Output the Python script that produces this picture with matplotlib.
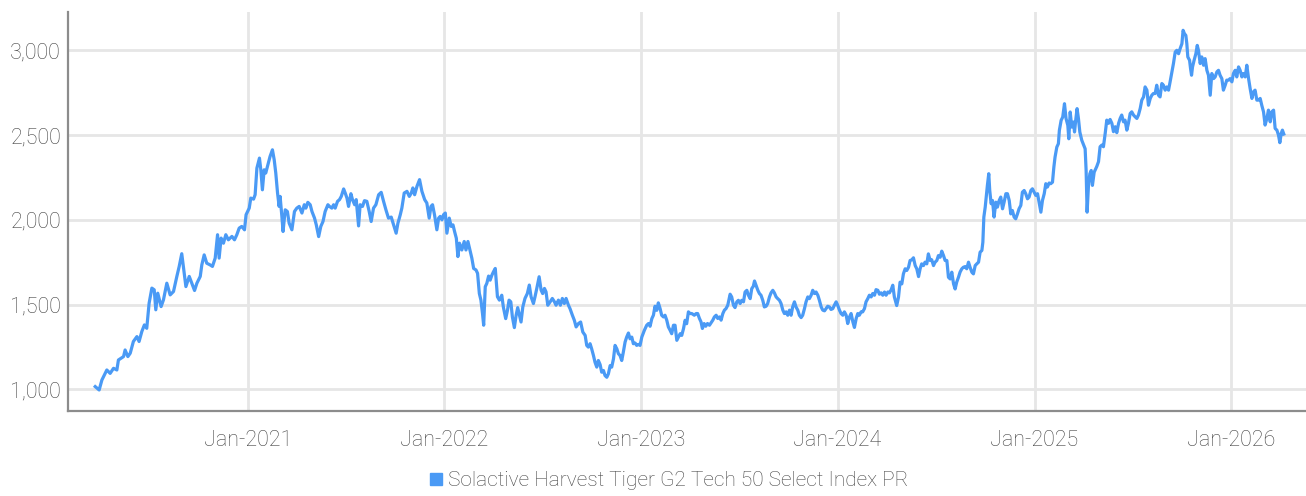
import matplotlib
matplotlib.use("Agg")
import matplotlib.pyplot as plt
from matplotlib.lines import Line2D
from matplotlib.ticker import FuncFormatter
import pandas as pd

plt.rcParams['font.family'] = ['Roboto', 'DejaVu Sans']
plt.rcParams['font.weight'] = 'light'

series_name = "Solactive Harvest Tiger G2 Tech 50 Select Index PR"

# time of each reading, in decimal years
years = [
    2020.226, 2020.246, 2020.260, 2020.285, 2020.302, 2020.319, 2020.336, 2020.344, 2020.370, 2020.378,
    2020.392, 2020.404, 2020.420, 2020.438, 2020.449, 2020.463, 2020.476, 2020.488, 2020.500, 2020.514,
    2020.526, 2020.534, 2020.544, 2020.561, 2020.573, 2020.590, 2020.607, 2020.624, 2020.641, 2020.653,
    2020.666, 2020.675, 2020.687, 2020.704, 2020.717, 2020.731, 2020.743, 2020.760, 2020.768, 2020.780,
    2020.793, 2020.810, 2020.822, 2020.836, 2020.848, 2020.856, 2020.866, 2020.878, 2020.890, 2020.903,
    2020.921, 2020.934, 2020.946, 2020.958, 2020.971, 2020.985, 2020.993, 2021.009, 2021.017, 2021.031,
    2021.039, 2021.048, 2021.061, 2021.068, 2021.076, 2021.085, 2021.093, 2021.104, 2021.115, 2021.127,
    2021.136, 2021.144, 2021.153, 2021.161, 2021.166, 2021.175, 2021.181, 2021.192, 2021.203, 2021.212,
    2021.226, 2021.239,
    2021.251, 2021.263, 2021.277, 2021.289, 2021.297, 2021.307, 2021.319, 2021.328, 2021.341, 2021.350,
    2021.362, 2021.373, 2021.384, 2021.395, 2021.409, 2021.417, 2021.429, 2021.438, 2021.446, 2021.458,
    2021.468, 2021.477, 2021.489, 2021.497, 2021.506, 2021.514, 2021.526, 2021.534, 2021.545, 2021.553,
    2021.565, 2021.573, 2021.585, 2021.595, 2021.607, 2021.619, 2021.629, 2021.641, 2021.653, 2021.667,
    2021.680, 2021.692, 2021.704, 2021.717, 2021.731, 2021.743, 2021.756, 2021.765, 2021.777, 2021.785,
    2021.797, 2021.811, 2021.823, 2021.833, 2021.841, 2021.850, 2021.862, 2021.875, 2021.887, 2021.901,
    2021.912, 2021.924, 2021.933, 2021.941, 2021.951, 2021.963, 2021.972, 2021.980, 2021.989, 2021.997,
    2022.006, 2022.014, 2022.026, 2022.036, 2022.045, 2022.053, 2022.062, 2022.070, 2022.078, 2022.090,
    2022.102, 2022.111, 2022.121, 2022.129, 2022.141, 2022.150, 2022.162, 2022.170, 2022.179, 2022.187,
    2022.195, 2022.201, 2022.209, 2022.217, 2022.226, 2022.234, 2022.243, 2022.251, 2022.260,
    2022.271, 2022.281, 2022.293, 2022.301, 2022.313, 2022.322, 2022.330, 2022.339, 2022.347, 2022.357,
    2022.366, 2022.374, 2022.383, 2022.391, 2022.400, 2022.411, 2022.423, 2022.433, 2022.442, 2022.454,
    2022.462, 2022.471, 2022.483, 2022.493, 2022.501, 2022.510, 2022.518, 2022.527, 2022.539, 2022.550,
    2022.561, 2022.569, 2022.581, 2022.591, 2022.601, 2022.611, 2022.620, 2022.632, 2022.640, 2022.652,
    2022.662, 2022.671, 2022.683, 2022.694, 2022.705, 2022.717, 2022.725, 2022.733, 2022.742, 2022.750,
    2022.759, 2022.767, 2022.776, 2022.784, 2022.793, 2022.801, 2022.810, 2022.818, 2022.827, 2022.835,
    2022.844, 2022.852, 2022.861, 2022.869, 2022.878, 2022.886, 2022.894, 2022.903, 2022.911, 2022.920,
    2022.928, 2022.937, 2022.945, 2022.954, 2022.962, 2022.971, 2022.979, 2022.988, 2022.996, 2023.005,
    2023.018, 2023.030, 2023.039, 2023.047, 2023.056, 2023.064, 2023.072, 2023.081, 2023.089, 2023.098,
    2023.106, 2023.115, 2023.123, 2023.132, 2023.140, 2023.149, 2023.157, 2023.166, 2023.174, 2023.183,
    2023.191, 2023.200, 2023.208, 2023.217, 2023.225, 2023.233, 2023.242, 2023.250, 2023.259, 2023.272,
    2023.281, 2023.289, 2023.298, 2023.306, 2023.313, 2023.322, 2023.330, 2023.339, 2023.349, 2023.357,
    2023.366, 2023.374, 2023.383, 2023.391, 2023.400, 2023.408, 2023.417, 2023.425, 2023.433, 2023.442,
    2023.454, 2023.462, 2023.471, 2023.479, 2023.488, 2023.496, 2023.505, 2023.513, 2023.522, 2023.530,
    2023.539, 2023.547, 2023.556, 2023.564, 2023.572, 2023.578, 2023.586, 2023.595, 2023.603, 2023.611,
    2023.620, 2023.628, 2023.637, 2023.645, 2023.654, 2023.662, 2023.671, 2023.679, 2023.688, 2023.696,
    2023.705, 2023.713, 2023.722, 2023.730, 2023.739, 2023.747, 2023.756, 2023.764, 2023.772, 2023.781,
    2023.789, 2023.798, 2023.806, 2023.815, 2023.823, 2023.832, 2023.840, 2023.849, 2023.857, 2023.866,
    2023.874, 2023.883, 2023.891, 2023.900, 2023.908, 2023.917, 2023.925, 2023.934, 2023.942, 2023.950,
    2023.959, 2023.967, 2023.976, 2023.984, 2023.993, 2024.001, 2024.010, 2024.018, 2024.027, 2024.035,
    2024.044, 2024.052, 2024.061, 2024.069, 2024.078, 2024.086, 2024.095, 2024.103, 2024.111, 2024.120,
    2024.128, 2024.137, 2024.145, 2024.154, 2024.162, 2024.171, 2024.179, 2024.188, 2024.196, 2024.205,
    2024.213, 2024.222, 2024.230, 2024.239, 2024.247, 2024.256, 2024.264, 2024.273, 2024.281, 2024.289,
    2024.301, 2024.310, 2024.318, 2024.327, 2024.335, 2024.344, 2024.352, 2024.361, 2024.369, 2024.378,
    2024.386, 2024.395, 2024.403, 2024.412, 2024.420, 2024.428, 2024.437, 2024.445, 2024.454, 2024.462,
    2024.471, 2024.479, 2024.488, 2024.496, 2024.505, 2024.513, 2024.522, 2024.530, 2024.539, 2024.547,
    2024.556, 2024.564, 2024.573, 2024.581, 2024.590, 2024.598, 2024.606, 2024.615, 2024.623, 2024.632,
    2024.640, 2024.649, 2024.657, 2024.666, 2024.674, 2024.683, 2024.691, 2024.700, 2024.708, 2024.717,
    2024.725, 2024.734, 2024.739, 2024.744, 2024.751, 2024.756, 2024.762, 2024.769, 2024.774, 2024.781,
    2024.788, 2024.796, 2024.805, 2024.813, 2024.822, 2024.830, 2024.839, 2024.847, 2024.856, 2024.864,
    2024.873, 2024.881, 2024.889, 2024.898, 2024.906, 2024.915, 2024.923, 2024.932, 2024.940, 2024.949,
    2024.957, 2024.966, 2024.974, 2024.983, 2024.991, 2025.000, 2025.008, 2025.017, 2025.025, 2025.034,
    2025.042, 2025.051, 2025.059, 2025.067, 2025.076, 2025.084, 2025.093, 2025.100, 2025.106, 2025.115,
    2025.123, 2025.128, 2025.137, 2025.145, 2025.154, 2025.162, 2025.171, 2025.176, 2025.183, 2025.191,
    2025.200, 2025.205, 2025.212, 2025.218, 2025.225, 2025.232, 2025.242, 2025.252, 2025.259, 2025.264,
    2025.269, 2025.276, 2025.283, 2025.290, 2025.296, 2025.305,
    2025.318, 2025.327, 2025.335, 2025.344, 2025.352, 2025.361, 2025.369, 2025.378, 2025.386, 2025.395,
    2025.403, 2025.412, 2025.420, 2025.429, 2025.437, 2025.445, 2025.454, 2025.462, 2025.471, 2025.479,
    2025.488, 2025.496, 2025.505, 2025.513, 2025.522, 2025.530, 2025.539, 2025.547, 2025.556, 2025.564,
    2025.573, 2025.581, 2025.590, 2025.598, 2025.606, 2025.615, 2025.623, 2025.632, 2025.640, 2025.649,
    2025.657, 2025.666, 2025.674, 2025.683, 2025.691, 2025.700, 2025.708, 2025.717, 2025.725, 2025.734,
    2025.742, 2025.751, 2025.757, 2025.764, 2025.771, 2025.776, 2025.781, 2025.790, 2025.795, 2025.800,
    2025.805, 2025.813, 2025.822, 2025.829, 2025.835, 2025.844, 2025.852, 2025.861, 2025.869, 2025.878,
    2025.886, 2025.895, 2025.903, 2025.912, 2025.920, 2025.929, 2025.937, 2025.945, 2025.954, 2025.962,
    2025.971, 2025.979, 2025.988, 2025.996, 2026.005, 2026.013, 2026.022, 2026.030, 2026.039, 2026.047,
    2026.056, 2026.064, 2026.073, 2026.081, 2026.090, 2026.098, 2026.107, 2026.115, 2026.123, 2026.132,
    2026.140, 2026.149, 2026.157, 2026.166, 2026.174, 2026.183, 2026.191, 2026.200, 2026.208, 2026.217,
    2026.225, 2026.234, 2026.242, 2026.249, 2026.256, 2026.262, 2026.269,
]

index_values = [
    1016, 996, 1055, 1114, 1094, 1124, 1114, 1173, 1193, 1232,
    1193, 1213, 1282, 1311, 1282, 1341, 1380, 1360, 1508, 1597,
    1587, 1469, 1567, 1488, 1528, 1626, 1557, 1577, 1666, 1725,
    1800, 1715, 1606, 1666, 1626, 1583, 1626, 1666, 1734, 1793,
    1744, 1734, 1725, 1774, 1912, 1774, 1892, 1862, 1912, 1882,
    1902, 1882, 1912, 1951, 1961, 1941, 2030, 2069, 2128, 2122,
    2148, 2305, 2364, 2295, 2177, 2295, 2276, 2325, 2374, 2413,
    2354, 2276, 2158, 2079, 2138, 2020, 1931, 2059, 2049, 1980,
    1941, 2049,
    2069, 2079, 2040, 2089, 2069, 2103, 2089, 2049, 2010, 1970,
    1901, 1961, 1990, 2049, 2089, 2079, 2069, 2089, 2069, 2109,
    2119, 2138, 2182, 2158, 2128, 2079, 2154, 2119, 2089, 2119,
    1964, 2089, 2079, 2113, 2109, 2049, 1990, 2069, 2089, 2148,
    2162, 2109, 2059, 2010, 2016, 1970, 1921, 1980, 2030, 2069,
    2158, 2168, 2138, 2158, 2188, 2148, 2198, 2237, 2168, 2119,
    2099, 2010, 2079, 2089, 2030, 1941, 2010, 2020, 2000, 2030,
    2040, 1921, 2010, 1961, 1970, 1931, 1891, 1783, 1862, 1822,
    1872, 1822, 1872, 1832, 1773, 1713, 1704, 1684, 1565, 1526,
    1447, 1378, 1605, 1625, 1668, 1644, 1674, 1694, 1713,
    1546, 1526, 1555, 1486, 1417, 1466, 1526, 1516, 1427, 1364,
    1437, 1482, 1437, 1397, 1486, 1536, 1565, 1615, 1546, 1506,
    1546, 1595, 1664, 1585, 1565, 1595, 1575, 1496, 1516, 1536,
    1516, 1496, 1526, 1496, 1536, 1506, 1536, 1496, 1476, 1437,
    1407, 1368, 1388, 1397, 1338, 1318, 1259, 1249, 1269, 1239,
    1200, 1160, 1131, 1170, 1146, 1101, 1111, 1081, 1071, 1091,
    1140, 1131, 1180, 1259, 1239, 1210, 1200, 1170, 1219, 1279,
    1308, 1332, 1298, 1308, 1269, 1273, 1259, 1265, 1259, 1308,
    1348, 1378, 1388, 1372, 1417, 1437, 1490, 1466, 1510, 1476,
    1437, 1427, 1437, 1407, 1368, 1348, 1328, 1378, 1378, 1289,
    1308, 1328, 1318, 1358, 1407, 1387, 1457, 1447, 1447, 1437,
    1447, 1447, 1418, 1398, 1359, 1388, 1372, 1388, 1378, 1392,
    1408, 1427, 1437, 1418, 1427, 1408, 1447, 1467, 1476, 1496,
    1561, 1545, 1496, 1482, 1516, 1525, 1506, 1525, 1516, 1574,
    1584, 1555, 1535, 1594, 1608, 1639, 1614, 1584, 1565, 1555,
    1525, 1486, 1490, 1506, 1545, 1569, 1584, 1569, 1545, 1535,
    1525, 1506, 1467, 1447, 1457, 1437, 1467, 1437, 1486, 1516,
    1486, 1467, 1437, 1423, 1437, 1476, 1516, 1545, 1535, 1555,
    1584, 1565, 1574, 1555, 1525, 1486, 1467, 1463, 1476, 1490,
    1486, 1471, 1476, 1496, 1516, 1496, 1467, 1447, 1437, 1457,
    1437, 1388, 1427, 1447, 1398, 1365, 1418, 1447, 1437, 1457,
    1457, 1476, 1516, 1535, 1555, 1545, 1565, 1555, 1588, 1584,
    1561, 1569, 1555, 1574, 1555, 1574, 1569, 1588, 1614, 1545,
    1494, 1543, 1632, 1622, 1681, 1711, 1701, 1720, 1760, 1764,
    1776, 1730, 1711, 1665, 1711, 1740, 1730, 1750, 1740, 1799,
    1760, 1764, 1730, 1750, 1760, 1789, 1779, 1815, 1789, 1760,
    1760, 1661, 1651, 1691, 1622, 1592, 1632, 1661, 1691, 1711,
    1720, 1724, 1711, 1750, 1720, 1691, 1681, 1730, 1740, 1750,
    1809, 1819, 1868, 2016, 2075, 2134, 2203, 2272, 2173, 2095,
    2114, 2016, 2104, 2075, 2114, 2134, 2065, 2104, 2154, 2154,
    2114, 2035, 2055, 2016, 2006, 2035, 2065, 2085, 2163, 2173,
    2154, 2124, 2134, 2173, 2183, 2163, 2144, 2154, 2104, 2045,
    2114, 2154, 2213, 2193, 2217, 2213, 2222, 2311, 2370, 2429,
    2449, 2528, 2587, 2606, 2685, 2597, 2557, 2478, 2636, 2547,
    2577, 2518, 2597, 2656, 2597, 2518, 2469, 2439, 2419, 2291,
    2045, 2203, 2272, 2291, 2203, 2281,
    2314, 2343, 2431, 2441, 2431, 2510, 2588, 2569, 2592, 2569,
    2520, 2549, 2514, 2569, 2598, 2618, 2578, 2588, 2529, 2569,
    2627, 2637, 2618, 2608, 2598, 2618, 2657, 2706, 2725, 2784,
    2765, 2676, 2716, 2735, 2745, 2745, 2794, 2735, 2725, 2804,
    2794, 2765, 2784, 2765, 2814, 2873, 2922, 2990, 3000, 2980,
    3010, 3039, 3118, 3098, 3088, 3039, 2961, 2941, 2892, 2853,
    2902, 2941, 2980, 3029, 3000, 2922, 2961, 2912, 2951, 2882,
    2853, 2735, 2863, 2833, 2843, 2873, 2882, 2853, 2833, 2765,
    2794, 2824, 2824, 2833, 2814, 2863, 2882, 2843, 2902, 2882,
    2843, 2863, 2843, 2912, 2833, 2774, 2716, 2755, 2765, 2706,
    2706, 2716, 2676, 2637, 2559, 2598, 2647, 2578, 2637, 2647,
    2539, 2529, 2500, 2455, 2510, 2529, 2506,
]

y_ticks = [1000, 1500, 2000, 2500, 3000]
x_tick_dates = ["2021-01-01", "2022-01-01", "2023-01-01", "2024-01-01", "2025-01-01", "2026-01-01"]
x_tick_labels = ["Jan-2021", "Jan-2022", "Jan-2023", "Jan-2024", "Jan-2025", "Jan-2026"]

line_color = "#4a9af5"
text_color = "#444444"
grid_color = "#e6e6e6"

dates = pd.Timestamp("2020-01-01") + pd.to_timedelta([(y - 2020) * 365.25 for y in years], unit="D")

fig = plt.figure(figsize=(13.06, 4.96), dpi=100)
ax = fig.add_axes([68 / 1306, 1 - 411 / 496, 1 - 68 / 1306, (411 - 12) / 496])

ax.plot(dates, index_values, color=line_color, linewidth=2.3, solid_joinstyle="round")

ax.set_ylim(872, 3226)
ax.set_xlim(pd.Timestamp("2020-02-02"), pd.Timestamp("2026-05-20"))
ax.set_yticks(y_ticks)
ax.yaxis.set_major_formatter(FuncFormatter(lambda v, p: f"{v:,.0f}"))
ax.set_xticks(pd.to_datetime(x_tick_dates))
ax.set_xticklabels(x_tick_labels)

ax.grid(True, color=grid_color, linewidth=2)
ax.set_axisbelow(True)
for s in ["top", "right"]:
    ax.spines[s].set_visible(False)
ax.spines["left"].set_color("#8c8c8c")
ax.spines["left"].set_linewidth(1.6)
ax.spines["bottom"].set_color("#8c8c8c")
ax.spines["bottom"].set_linewidth(1.6)

ax.tick_params(axis="both", length=0, labelsize=15.5, labelcolor=text_color)
ax.tick_params(axis="y", pad=5)
ax.tick_params(axis="x", pad=14)

handle = Line2D([], [], linestyle="none", marker="s", markersize=8,
                markerfacecolor=line_color, markeredgecolor=line_color)
fig.legend([handle], [series_name], loc="center", bbox_to_anchor=(669 / 1306, 1 - 481 / 496),
           frameon=False, fontsize=15, labelcolor=text_color, handlelength=0.6,
           handletextpad=0.25, borderpad=0, borderaxespad=0)

fig.savefig("out.png", dpi=100)
